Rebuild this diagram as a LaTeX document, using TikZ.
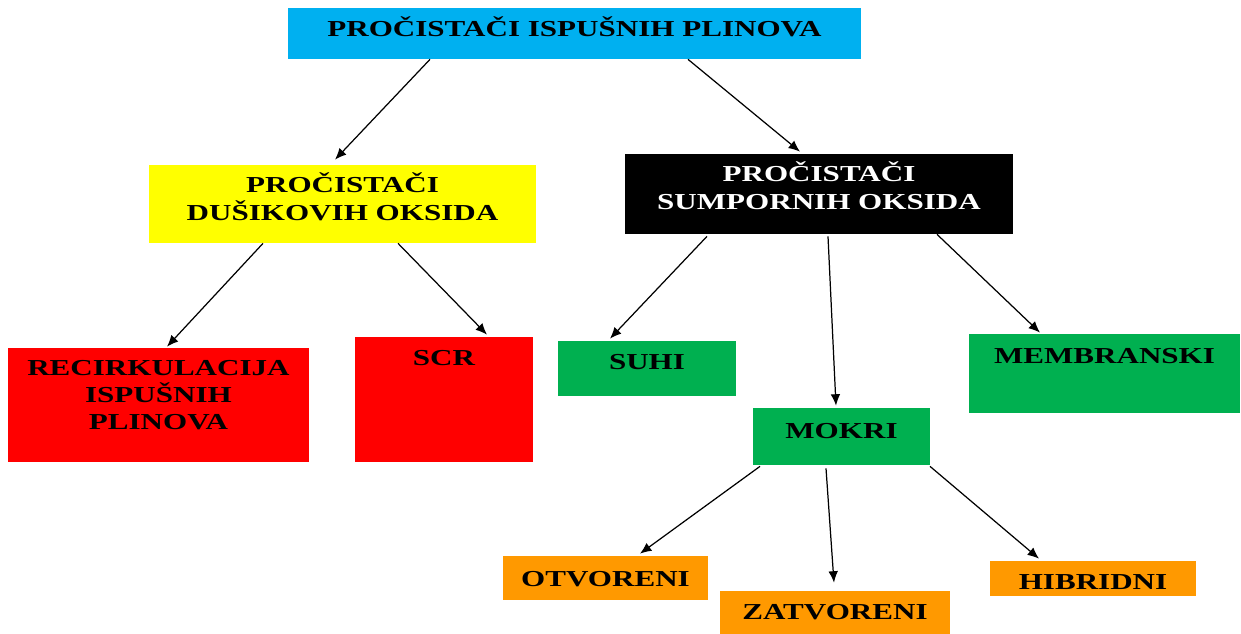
\documentclass[tikz,border=0pt]{standalone}
\usepackage{fontspec}
\setmainfont{Liberation Serif}[FakeStretch=1.36]
\usepackage{tikz}
\usetikzlibrary{positioning, arrows.meta}

\definecolor{plava}{HTML}{00B0F0}
\definecolor{zuta}{HTML}{FFFF00}
\definecolor{crvena}{HTML}{FF0000}
\definecolor{zelena}{HTML}{00B050}
\definecolor{narancasta}{HTML}{FF9900}

\begin{document}
\begin{tikzpicture}[
		kutija/.style={rectangle, inner sep=0pt},
		natpis/.style={font=\fontsize{13}{15.6}\selectfont\bfseries, align=center, inner sep=0pt},
		veza/.style={-{Latex[length=6.5pt, width=5.5pt]}, line width=0.7pt}
	]
	\useasboundingbox (0,0) rectangle (24.82,-12.68);
	
	% Glavni pojam
	\node[kutija, fill=plava, minimum width=11.46cm, minimum height=1.02cm] (glavni) at (11.49,-0.67) {};
	\node[natpis, below=0.17cm of glavni.north] (glavni-t) {PROČISTAČI ISPUŠNIH PLINOVA};
	
	% Dušikovi oksidi
	\node[kutija, fill=zuta, minimum width=7.74cm, minimum height=1.56cm] (dusik) at (6.85,-4.08) {};
	\node[natpis, below=0.16cm of dusik.north] (dusik-t) {PROČISTAČI\\DUŠIKOVIH OKSIDA};
	\node[kutija, fill=crvena, minimum width=6.02cm, minimum height=2.28cm] (recirk) at (3.17,-8.10) {};
	\node[natpis, below=0.24cm of recirk.north] (recirk-t) {RECIRKULACIJA\\ISPUŠNIH\\PLINOVA};
	\node[kutija, fill=crvena, minimum width=3.56cm, minimum height=2.50cm] (scr) at (8.88,-7.99) {};
	\node[natpis, below=0.26cm of scr.north] (scr-t) {SCR};
	
	% Sumporni oksidi
	\node[kutija, fill=black, minimum width=7.76cm, minimum height=1.60cm] (sumpor) at (16.38,-3.88) {};
	\node[natpis, text=white, below=0.16cm of sumpor.north] (sumpor-t) {PROČISTAČI\\SUMPORNIH OKSIDA};
	\node[kutija, fill=zelena, minimum width=3.56cm, minimum height=1.10cm] (suhi) at (12.94,-7.37) {};
	\node[natpis, below=0.26cm of suhi.north] (suhi-t) {SUHI};
	\node[kutija, fill=zelena, minimum width=3.54cm, minimum height=1.14cm] (mokri) at (16.83,-8.73) {};
	\node[natpis, below=0.30cm of mokri.north] (mokri-t) {MOKRI};
	\node[kutija, fill=zelena, minimum width=5.42cm, minimum height=1.58cm] (membr) at (22.09,-7.47) {};
	\node[natpis, below=0.28cm of membr.north] (membr-t) {MEMBRANSKI};
	
	% Mokri postupci
	\node[kutija, fill=narancasta, minimum width=4.10cm, minimum height=0.88cm] (otvor) at (12.11,-11.56) {};
	\node[natpis, below=0.30cm of otvor.north] (otvor-t) {OTVORENI};
	\node[kutija, fill=narancasta, minimum width=4.60cm, minimum height=0.86cm] (zatvor) at (16.70,-12.25) {};
	\node[natpis, below=0.26cm of zatvor.north] (zatvor-t) {ZATVORENI};
	\node[kutija, fill=narancasta, minimum width=4.12cm, minimum height=0.70cm] (hibrid) at (21.86,-11.57) {};
	\node[natpis, below=0.28cm of hibrid.north] (hibrid-t) {HIBRIDNI};
	
	% Veze
	\draw[veza] ([xshift=-2.89cm]glavni.south) -- ([xshift=-0.15cm, yshift=0.10cm]dusik.north);
	\draw[veza] ([xshift=2.27cm]glavni.south) -- ([xshift=-0.38cm, yshift=0.04cm]sumpor.north);
	\draw[veza] ([xshift=-1.59cm]dusik.south) -- ([xshift=0.17cm, yshift=0.02cm]recirk.north);
	\draw[veza] ([xshift=1.11cm]dusik.south) -- ([xshift=0.86cm, yshift=0.04cm]scr.north);
	\draw[veza] ([xshift=-2.24cm, yshift=-0.04cm]sumpor.south) -- ([xshift=-0.74cm, yshift=0.04cm]suhi.north);
	\draw[veza] ([xshift=0.18cm, yshift=-0.04cm]sumpor.south) -- ([xshift=-0.11cm, yshift=0.04cm]mokri.north);
	\draw[veza] ([xshift=2.36cm]sumpor.south) -- ([xshift=-1.29cm, yshift=0.02cm]membr.north);
	\draw[veza] ([xshift=-1.63cm, yshift=-0.02cm]mokri.south) -- ([xshift=0.69cm, yshift=0.04cm]otvor.north);
	\draw[veza] ([xshift=-0.31cm, yshift=-0.06cm]mokri.south) -- ([xshift=-0.02cm, yshift=0.16cm]zatvor.north);
	\draw[veza] ([xshift=1.77cm, yshift=-0.02cm]mokri.south) -- ([xshift=-1.08cm, yshift=0.04cm]hibrid.north);
\end{tikzpicture}
\end{document}
